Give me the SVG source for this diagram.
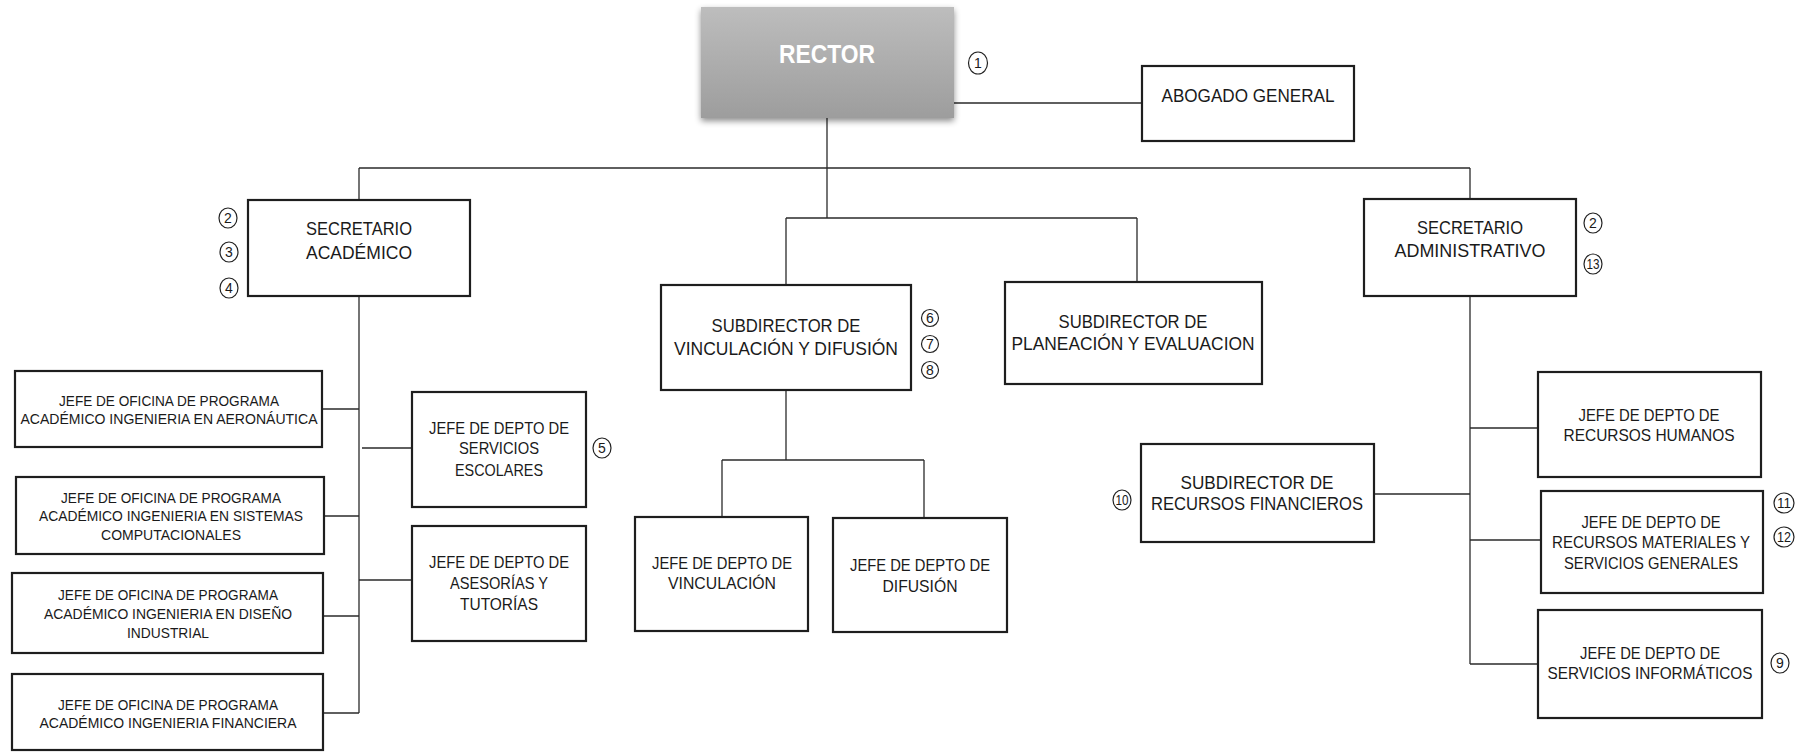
<svg xmlns="http://www.w3.org/2000/svg" width="1807" height="753" viewBox="0 0 1807 753">
<defs>
<linearGradient id="rg" x1="0" y1="0" x2="0" y2="1">
<stop offset="0" stop-color="#bdbdbd"/>
<stop offset="1" stop-color="#9d9d9d"/>
</linearGradient>
<filter id="sh" x="-10%" y="-10%" width="120%" height="130%">
<feDropShadow dx="0" dy="3" stdDeviation="3" flood-color="#000" flood-opacity="0.45"/>
</filter>
</defs>
<style>
.box{fill:#fff;stroke:#1e1e1e;stroke-width:2.2}
.ln{stroke:#2a2a2a;stroke-width:1.3;fill:none}
text{font-family:"Liberation Sans",Arial,sans-serif;fill:#1a1a1a;text-anchor:middle}
.b{font-size:19px}
.m{font-size:17px}
.s{font-size:15.5px}
.cn circle,.cn ellipse{fill:#fff;stroke:#222;stroke-width:1.2}
.cn text{font-size:14px}
.rt{font-size:26px;font-weight:bold;fill:#fff}
</style>
<rect width="1807" height="753" fill="#fff"/>

<g id="connectors">
<path class="ln" d="M954,103H1142"/>
<path class="ln" d="M827,118V218"/>
<path class="ln" d="M359,168H1470"/>
<path class="ln" d="M359,168V200"/>
<path class="ln" d="M1470,168V199"/>
<path class="ln" d="M786,218H1137"/>
<path class="ln" d="M786,218V285"/>
<path class="ln" d="M1137,218V282"/>
<path class="ln" d="M786,390V460"/>
<path class="ln" d="M722,460H924"/>
<path class="ln" d="M722,460V517"/>
<path class="ln" d="M924,460V518"/>
<path class="ln" d="M359,296V713"/>
<path class="ln" d="M322,409H359"/>
<path class="ln" d="M362,448H412"/>
<path class="ln" d="M324,516H359"/>
<path class="ln" d="M359,580H412"/>
<path class="ln" d="M323,616H359"/>
<path class="ln" d="M323,713H359"/>
<path class="ln" d="M1470,296V664"/>
<path class="ln" d="M1470,428H1538"/>
<path class="ln" d="M1374,494H1470"/>
<path class="ln" d="M1470,540H1541"/>
<path class="ln" d="M1470,664H1538"/>
</g>

<g id="rector">
<rect x="701" y="7" width="253" height="111" fill="url(#rg)" filter="url(#sh)"/>
<text class="rt" x="827" y="63" textLength="96" lengthAdjust="spacingAndGlyphs">RECTOR</text>
</g>
<g id="abogado">
<rect class="box" x="1142" y="66" width="212" height="75"/>
<text class="b" x="1248" y="102" textLength="173" lengthAdjust="spacingAndGlyphs">ABOGADO GENERAL</text>
</g>
<g id="sec-academico">
<rect class="box" x="248" y="200" width="222" height="96"/>
<text class="b" x="359" y="235" textLength="106" lengthAdjust="spacingAndGlyphs">SECRETARIO</text>
<text class="b" x="359" y="259" textLength="106" lengthAdjust="spacingAndGlyphs">ACADÉMICO</text>
</g>
<g id="sec-admin">
<rect class="box" x="1364" y="199" width="212" height="97"/>
<text class="b" x="1470" y="234" textLength="106" lengthAdjust="spacingAndGlyphs">SECRETARIO</text>
<text class="b" x="1470" y="257" textLength="151" lengthAdjust="spacingAndGlyphs">ADMINISTRATIVO</text>
</g>
<g id="subdir-vinc">
<rect class="box" x="661" y="285" width="250" height="105"/>
<text class="b" x="786" y="332" textLength="149" lengthAdjust="spacingAndGlyphs">SUBDIRECTOR DE</text>
<text class="b" x="786" y="355" textLength="224" lengthAdjust="spacingAndGlyphs">VINCULACIÓN Y DIFUSIÓN</text>
</g>
<g id="subdir-plan">
<rect class="box" x="1005" y="282" width="257" height="102"/>
<text class="b" x="1133" y="328" textLength="149" lengthAdjust="spacingAndGlyphs">SUBDIRECTOR DE</text>
<text class="b" x="1133" y="350" textLength="243" lengthAdjust="spacingAndGlyphs">PLANEACIÓN Y EVALUACION</text>
</g>
<g id="jefe-vinc">
<rect class="box" x="635" y="517" width="173" height="114"/>
<text class="m" x="722" y="569" textLength="140" lengthAdjust="spacingAndGlyphs">JEFE DE DEPTO DE</text>
<text class="m" x="722" y="589" textLength="108" lengthAdjust="spacingAndGlyphs">VINCULACIÓN</text>
</g>
<g id="jefe-difusion">
<rect class="box" x="833" y="518" width="174" height="114"/>
<text class="m" x="920" y="571" textLength="140" lengthAdjust="spacingAndGlyphs">JEFE DE DEPTO DE</text>
<text class="m" x="920" y="592" textLength="75" lengthAdjust="spacingAndGlyphs">DIFUSIÓN</text>
</g>
<g id="subdir-recfin">
<rect class="box" x="1141" y="444" width="233" height="98"/>
<text class="b" x="1257" y="489" textLength="153" lengthAdjust="spacingAndGlyphs">SUBDIRECTOR  DE</text>
<text class="b" x="1257" y="510" textLength="212" lengthAdjust="spacingAndGlyphs">RECURSOS FINANCIEROS</text>
</g>
<g id="jefe-rh">
<rect class="box" x="1538" y="372" width="223" height="105"/>
<text class="m" x="1649" y="421" textLength="141" lengthAdjust="spacingAndGlyphs">JEFE DE DEPTO DE</text>
<text class="m" x="1649" y="441" textLength="171" lengthAdjust="spacingAndGlyphs">RECURSOS HUMANOS</text>
</g>
<g id="jefe-recmat">
<rect class="box" x="1541" y="491" width="222" height="102"/>
<text class="m" x="1651" y="528" textLength="139" lengthAdjust="spacingAndGlyphs">JEFE DE DEPTO DE</text>
<text class="m" x="1651" y="548" textLength="198" lengthAdjust="spacingAndGlyphs">RECURSOS MATERIALES Y</text>
<text class="m" x="1651" y="569" textLength="174" lengthAdjust="spacingAndGlyphs">SERVICIOS GENERALES</text>
</g>
<g id="jefe-servinf">
<rect class="box" x="1538" y="610" width="224" height="108"/>
<text class="m" x="1650" y="659" textLength="140" lengthAdjust="spacingAndGlyphs">JEFE DE DEPTO DE</text>
<text class="m" x="1650" y="679" textLength="205" lengthAdjust="spacingAndGlyphs">SERVICIOS INFORMÁTICOS</text>
</g>
<g id="jefe-aero">
<rect class="box" x="15" y="371" width="307" height="76"/>
<text class="s" x="169" y="406" textLength="220" lengthAdjust="spacingAndGlyphs">JEFE DE OFICINA DE PROGRAMA</text>
<text class="s" x="169" y="424" textLength="297" lengthAdjust="spacingAndGlyphs">ACADÉMICO INGENIERIA EN AERONÁUTICA</text>
</g>
<g id="jefe-sistemas">
<rect class="box" x="16" y="477" width="308" height="77"/>
<text class="s" x="171" y="503" textLength="220" lengthAdjust="spacingAndGlyphs">JEFE DE OFICINA DE PROGRAMA</text>
<text class="s" x="171" y="521" textLength="264" lengthAdjust="spacingAndGlyphs">ACADÉMICO INGENIERIA EN SISTEMAS</text>
<text class="s" x="171" y="540" textLength="140" lengthAdjust="spacingAndGlyphs">COMPUTACIONALES</text>
</g>
<g id="jefe-diseno">
<rect class="box" x="12" y="573" width="311" height="80"/>
<text class="s" x="168" y="600" textLength="220" lengthAdjust="spacingAndGlyphs">JEFE DE OFICINA DE PROGRAMA</text>
<text class="s" x="168" y="619" textLength="248" lengthAdjust="spacingAndGlyphs">ACADÉMICO INGENIERIA EN DISEÑO</text>
<text class="s" x="168" y="638" textLength="82" lengthAdjust="spacingAndGlyphs">INDUSTRIAL</text>
</g>
<g id="jefe-financiera">
<rect class="box" x="12" y="674" width="311" height="76"/>
<text class="s" x="168" y="710" textLength="220" lengthAdjust="spacingAndGlyphs">JEFE DE OFICINA DE PROGRAMA</text>
<text class="s" x="168" y="728" textLength="257" lengthAdjust="spacingAndGlyphs">ACADÉMICO INGENIERIA FINANCIERA</text>
</g>
<g id="jefe-escolares">
<rect class="box" x="412" y="392" width="174" height="115"/>
<text class="m" x="499" y="434" textLength="140" lengthAdjust="spacingAndGlyphs">JEFE DE DEPTO DE</text>
<text class="m" x="499" y="454" textLength="80" lengthAdjust="spacingAndGlyphs">SERVICIOS</text>
<text class="m" x="499" y="476" textLength="88" lengthAdjust="spacingAndGlyphs">ESCOLARES</text>
</g>
<g id="jefe-asesorias">
<rect class="box" x="412" y="526" width="174" height="115"/>
<text class="m" x="499" y="568" textLength="140" lengthAdjust="spacingAndGlyphs">JEFE DE DEPTO DE</text>
<text class="m" x="499" y="589" textLength="98" lengthAdjust="spacingAndGlyphs">ASESORÍAS Y</text>
<text class="m" x="499" y="610" textLength="78" lengthAdjust="spacingAndGlyphs">TUTORÍAS</text>
</g>

<g id="markers" class="cn">
<g><ellipse cx="978" cy="63" rx="9.5" ry="11"/><text x="978" y="68">1</text></g>
<g><ellipse cx="228" cy="218" rx="9" ry="10"/><text x="228" y="223">2</text></g>
<g><ellipse cx="229" cy="252" rx="9" ry="10"/><text x="229" y="257">3</text></g>
<g><ellipse cx="229" cy="288" rx="9" ry="10"/><text x="229" y="293">4</text></g>
<g><ellipse cx="602" cy="448" rx="9" ry="10"/><text x="602" y="453">5</text></g>
<g><ellipse cx="930" cy="318" rx="8.5" ry="8.5"/><text x="930" y="323">6</text></g>
<g><ellipse cx="930" cy="344" rx="8.5" ry="8.5"/><text x="930" y="349">7</text></g>
<g><ellipse cx="930" cy="370" rx="8.5" ry="8.5"/><text x="930" y="375">8</text></g>
<g><ellipse cx="1780" cy="663" rx="9" ry="10"/><text x="1780" y="668">9</text></g>
<g><ellipse cx="1122" cy="500" rx="9" ry="10"/><text x="1122" y="505" textLength="13" lengthAdjust="spacingAndGlyphs">10</text></g>
<g><ellipse cx="1784" cy="503" rx="10" ry="10"/><text x="1784" y="508" textLength="14" lengthAdjust="spacingAndGlyphs">11</text></g>
<g><ellipse cx="1784" cy="537" rx="10" ry="10"/><text x="1784" y="542" textLength="14" lengthAdjust="spacingAndGlyphs">12</text></g>
<g><ellipse cx="1593" cy="223" rx="9" ry="10"/><text x="1593" y="228">2</text></g>
<g><ellipse cx="1593" cy="264" rx="9" ry="10"/><text x="1593" y="269" textLength="13" lengthAdjust="spacingAndGlyphs">13</text></g>
</g>
</svg>
